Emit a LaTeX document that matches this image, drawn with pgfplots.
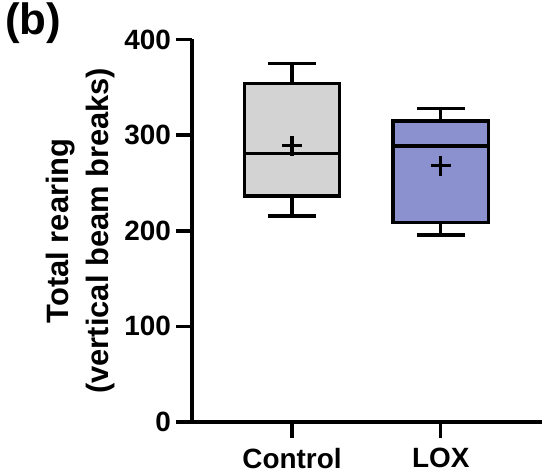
\documentclass[border=0pt]{standalone}
\usepackage{fontspec}
\setmainfont{Liberation Sans}
\usepackage{pgfplots}
\pgfplotsset{compat=1.18}
\definecolor{ctrlgray}{RGB}{211,211,211}
\definecolor{loxblue}{RGB}{138,145,206}
\begin{document}
\begin{tikzpicture}
\useasboundingbox (-192bp,-51bp) rectangle (350bp,422bp);
\begin{axis}[
  at={(0,0)}, anchor=south west,
  scale only axis,
  width=350bp, height=382.5bp,
  xmin=0.3275, xmax=2.681,
  ymin=0, ymax=400,
  ytick={0,100,200,300,400},
  xtick={1,2},
  xticklabels={Control,LOX},
  axis lines=left,
  axis line style={-, line width=3.5bp, black},
  tick style={line width=3.5bp, black},
  tick align=outside,
  major tick length=16bp,
  clip=false,
  /pgf/number format/assume math mode=true,
  ticklabel style={font=\fontsize{28}{30}\selectfont\bfseries, inner sep=0pt},
  yticklabel style={xshift=-5bp},
  xticklabel style={yshift=-10bp},
  ylabel={Total rearing\\(vertical beam breaks)},
  ylabel style={font=\fontsize{31}{40}\selectfont\bfseries, align=center,
    at={(axis description cs:0,0.5)}, anchor=south, inner sep=0pt, yshift=77bp},
  every axis plot/.append style={line width=3.5bp, line join=miter},
]
% Control: whiskers 215.5/375, quartiles 236.4/354, median 281, mean 289
\addplot[black] coordinates {(1,236.4) (1,215.5)};
\addplot[black] coordinates {(0.84,215.5) (1.16,215.5)};
\addplot[black] coordinates {(1,354) (1,375)};
\addplot[black] coordinates {(0.84,375) (1.16,375)};
\addplot[draw=black, fill=ctrlgray] coordinates {(0.68,236.4) (1.32,236.4) (1.32,354) (0.68,354)} -- cycle;
\addplot[black] coordinates {(0.68,281) (1.32,281)};
\addplot[black, only marks, mark=+, mark size=10bp] coordinates {(1,289)};
% LOX: whiskers 195.3/328, quartiles 208.6/315, median 288.8, mean 268
\addplot[black] coordinates {(2,208.6) (2,195.3)};
\addplot[black] coordinates {(1.84,195.3) (2.16,195.3)};
\addplot[black] coordinates {(2,315) (2,328)};
\addplot[black] coordinates {(1.84,328) (2.16,328)};
\addplot[draw=black, fill=loxblue] coordinates {(1.68,208.6) (2.32,208.6) (2.32,315) (1.68,315)} -- cycle;
\addplot[black] coordinates {(1.68,288.8) (2.32,288.8)};
\addplot[black, only marks, mark=+, mark size=10bp] coordinates {(2,268)};
\end{axis}
\node[anchor=north west, inner sep=0pt, font=\fontsize{44}{48}\selectfont\bfseries] at (-187bp,419bp) {(b)};
\end{tikzpicture}
\end{document}
